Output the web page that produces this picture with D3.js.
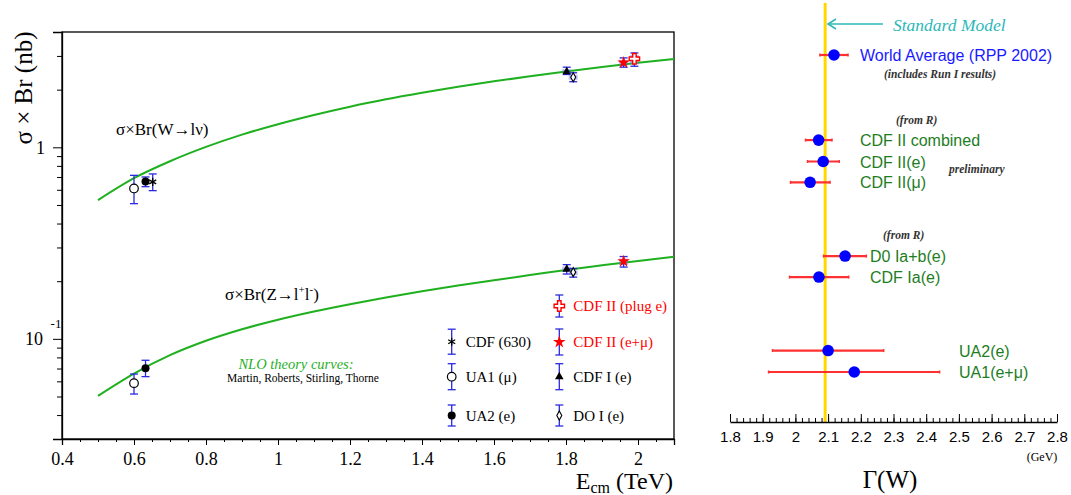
<!DOCTYPE html>
<html>
<head>
<meta charset="utf-8">
<script src="https://cdn.jsdelivr.net/npm/d3@7"></script>
<style>
  html, body { margin: 0; padding: 0; background: #fff; }
  svg { display: block; }
</style>
</head>
<body>
<svg id="chart" width="1071" height="495"></svg>
<script>
// ---------------- DATA ----------------
// Theory curves (NLO, MRST)
const theoryEnergy = [0.5, 0.6, 0.7, 0.8, 0.9, 1.0, 1.1, 1.2, 1.3, 1.4, 1.5, 1.6, 1.7, 1.8, 1.9, 2.0, 2.1];
const theoryW = [0.53, 0.69, 0.846, 1.005, 1.165, 1.32, 1.475, 1.63, 1.78, 1.925, 2.07, 2.21, 2.35, 2.49, 2.625, 2.76, 2.89];
const theoryZ = [0.0504, 0.0659, 0.0822, 0.0977, 0.1122, 0.1259, 0.139, 0.1517, 0.1644, 0.177, 0.1897, 0.2025, 0.2152, 0.229, 0.242, 0.255, 0.268];

// Measurements
const experiments = ["UA1 (μ)", "UA2 (e)", "CDF (630)", "CDF I (e)", "DO I (e)", "CDF II (e+μ)", "CDF II (plug e)"];
const expEnergy   = [0.600, 0.632, 0.652, 1.802, 1.820, 1.960, 1.990];
const wValue = [0.610, 0.664, 0.660, 2.48, 2.32, 2.77, 2.90];
const wLow   = [0.508, 0.623, 0.594, 2.40, 2.20, 2.62, 2.65];
const wHigh  = [0.714, 0.700, 0.726, 2.62, 2.45, 2.93, 3.11];
const zValue = [0.0587, 0.0703, null, 0.231, 0.223, 0.254, null];
const zLow   = [0.0515, 0.0635, null, 0.218, 0.210, 0.237, null];
const zHigh  = [0.0655, 0.0773, null, 0.244, 0.233, 0.269, null];

// Axis ticks (left)
const xTickValues = [0.4, 0.6, 0.8, 1.0, 1.2, 1.4, 1.6, 1.8, 2.0];
const xTickLabels = ["0.4", "0.6", "0.8", "1", "1.2", "1.4", "1.6", "1.8", "2"];

// W width measurements (right)
const widthLabels = ["World Average (RPP 2002)", "CDF II combined", "CDF II(e)", "CDF II(μ)", "D0 Ia+b(e)", "CDF Ia(e)", "UA2(e)", "UA1(e+μ)"];
const widthValue = [2.118, 2.071, 2.085, 2.045, 2.152, 2.072, 2.100, 2.180];
const widthErrLo = [0.043, 0.040, 0.048, 0.060, 0.066, 0.090, 0.170, 0.262];
const widthErrHi = [0.043, 0.041, 0.049, 0.061, 0.065, 0.091, 0.170, 0.261];
const standardModelWidth = 2.091;
const widthTickValues = [1.8, 1.9, 2.0, 2.1, 2.2, 2.3, 2.4, 2.5, 2.6, 2.7, 2.8];
const widthTickLabels = ["1.8", "1.9", "2", "2.1", "2.2", "2.3", "2.4", "2.5", "2.6", "2.7", "2.8"];

// ---------------- DRAWING ----------------
const svg = d3.select("#chart");
const SERIF = "'Liberation Serif', 'Times New Roman', serif";
const SANS = "'Liberation Sans', Arial, sans-serif";
const BLUE_ERR = "#2a2ae0";
const GREEN = "#1fb01f";

// ===== Left panel =====
const L = { left: 62, right: 674, top: 32, bottom: 439 };
const x = d3.scaleLinear().domain([0.4, 2.1]).range([L.left, L.right]);
const y = d3.scaleLog().domain([0.03, 4]).range([L.bottom, L.top]);

// frame
svg.append("rect").attr("x", L.left).attr("y", L.top)
  .attr("width", L.right - L.left).attr("height", L.bottom - L.top)
  .attr("fill", "none").attr("stroke", "#000").attr("stroke-width", 1.3);

// x axis minor ticks
const xMinor = d3.range(0.4, 2.1001, 0.05).map(v => +v.toFixed(2));
svg.append("g").attr("transform", `translate(0,${L.bottom})`)
  .call(d3.axisBottom(x).tickValues(xMinor).tickSize(3).tickFormat(""))
  .call(g => g.select(".domain").remove())
  .selectAll("line").attr("stroke-width", 1);
// x axis major
const gx = svg.append("g").attr("transform", `translate(0,${L.bottom})`)
  .call(d3.axisBottom(x).tickValues(xTickValues).tickSize(6).tickPadding(7)
    .tickFormat((d, i) => xTickLabels[i]));
gx.select(".domain").attr("stroke-width", 1.3);
gx.selectAll("text").attr("font-family", SERIF).attr("font-size", 18).attr("fill", "#000");

// y axis minor ticks
const yMinor = [];
[0.01, 0.1, 1].forEach(dec => { for (let k = 2; k <= 9; k++) { const v = dec * k; if (v >= 0.03 && v <= 4) yMinor.push(v); } });
svg.append("g").attr("transform", `translate(${L.left},0)`)
  .call(d3.axisLeft(y).tickValues(yMinor).tickSize(5).tickFormat(""))
  .call(g => g.select(".domain").remove());
// y axis major
const gy = svg.append("g").attr("transform", `translate(${L.left},0)`)
  .call(d3.axisLeft(y).tickValues([0.1, 1]).tickSize(9).tickPadding(8).tickFormat(d => d === 1 ? "1" : "10"));
gy.select(".domain").attr("stroke-width", 1.3);
gy.selectAll("text").attr("font-family", SERIF).attr("font-size", 18).attr("fill", "#000");
gy.selectAll(".tick").filter(d => d === 0.1).select("text").attr("dx", "-2");
gy.selectAll(".tick").filter(d => d === 0.1).append("text")
  .attr("x", -6).attr("y", -11).attr("text-anchor", "middle")
  .attr("font-family", SERIF).attr("font-size", 13).attr("fill", "#000").text("-1");

// axis titles
svg.append("text").attr("transform", "translate(32,88) rotate(-90)")
  .attr("text-anchor", "middle").attr("font-family", SERIF).attr("font-size", 25)
  .text("σ × Br (nb)");
const xt = svg.append("text").attr("x", 673).attr("y", 489).attr("text-anchor", "end")
  .attr("font-family", SERIF).attr("font-size", 24);
xt.append("tspan").text("E");
xt.append("tspan").attr("font-size", 16).attr("dy", 4).text("cm");
xt.append("tspan").attr("dy", -4).text(" (TeV)");

// theory curves
const curvePts = (vals) => theoryEnergy.map((e, i) => [x(e), y(vals[i])]);
const lineGen = d3.line().curve(d3.curveMonotoneX);
[theoryW, theoryZ].forEach(vals => {
  svg.append("path").attr("d", lineGen(curvePts(vals)))
    .attr("fill", "none").attr("stroke", GREEN).attr("stroke-width", 2);
});

// marker drawing
function drawMarker(g, kind, cx, cy) {
  if (kind === "openCircle") {
    g.append("circle").attr("cx", cx).attr("cy", cy).attr("r", 4.3)
      .attr("fill", "#fff").attr("stroke", "#000").attr("stroke-width", 1.2);
  } else if (kind === "fullCircle") {
    g.append("circle").attr("cx", cx).attr("cy", cy).attr("r", 4)
      .attr("fill", "#000");
  } else if (kind === "asterisk") {
    g.append("path").attr("d", d3.symbol(d3.symbolAsterisk, 45)())
      .attr("transform", `translate(${cx},${cy})`).attr("fill", "none")
      .attr("stroke", "#000").attr("stroke-width", 1.3);
  } else if (kind === "triangle") {
    g.append("path").attr("d", d3.symbol(d3.symbolTriangle, 32)())
      .attr("transform", `translate(${cx},${cy})`).attr("fill", "#000");
  } else if (kind === "diamond") {
    g.append("path").attr("d", "M0,-4.5L2.5,0L0,4.5L-2.5,0Z")
      .attr("transform", `translate(${cx},${cy})`).attr("fill", "#fff")
      .attr("stroke", "#000").attr("stroke-width", 1.1);
  } else if (kind === "star") {
    g.append("path").attr("d", d3.symbol(d3.symbolStar, 50)())
      .attr("transform", `translate(${cx},${cy})`).attr("fill", "#ff0000");
  } else if (kind === "openCross") {
    g.append("path").attr("d", d3.symbol(d3.symbolCross, 60)())
      .attr("transform", `translate(${cx},${cy})`).attr("fill", "#fff")
      .attr("stroke", "#ff0000").attr("stroke-width", 1.4);
  }
}
function drawErrBar(g, cx, y1, y2, withBand) {
  if (withBand) {
    g.append("rect").attr("x", cx - 4.5).attr("y", Math.min(y1, y2) + 2)
      .attr("width", 9).attr("height", Math.abs(y2 - y1) - 4)
      .attr("fill", "#6f6ff0").attr("opacity", 0.45);
  }
  g.append("line").attr("x1", cx).attr("x2", cx).attr("y1", y1).attr("y2", y2)
    .attr("stroke", BLUE_ERR).attr("stroke-width", 1.3);
  [y1, y2].forEach(yy => g.append("line").attr("x1", cx - 4).attr("x2", cx + 4)
    .attr("y1", yy).attr("y2", yy).attr("stroke", BLUE_ERR).attr("stroke-width", 1.3));
}
const markerKinds = ["openCircle", "fullCircle", "asterisk", "triangle", "diamond", "star", "openCross"];
const gData = svg.append("g");
experiments.forEach((name, i) => {
  const cx = x(expEnergy[i]);
  const band = expEnergy[i] > 1.5;
  drawErrBar(gData, cx, y(wHigh[i]), y(wLow[i]), band);
  drawMarker(gData, markerKinds[i], cx, y(wValue[i]));
  if (zValue[i] !== null) {
    drawErrBar(gData, cx, y(zHigh[i]), y(zLow[i]), band);
    drawMarker(gData, markerKinds[i], cx, y(zValue[i]));
  }
});

// curve labels
svg.append("text").attr("x", 116).attr("y", 135).attr("font-family", SERIF).attr("font-size", 17)
  .text("σ×Br(W→lν)");
const zl = svg.append("text").attr("x", 225).attr("y", 300).attr("font-family", SERIF).attr("font-size", 17);
zl.append("tspan").text("σ×Br(Z→l");
zl.append("tspan").attr("font-size", 11).attr("dy", -7).text("+");
zl.append("tspan").attr("font-size", 17).attr("dy", 7).text("l");
zl.append("tspan").attr("font-size", 11).attr("dy", -7).text("-");
zl.append("tspan").attr("font-size", 17).attr("dy", 7).text(")");
svg.append("text").attr("x", 296).attr("y", 369).attr("text-anchor", "middle")
  .attr("font-family", SERIF).attr("font-style", "italic").attr("font-size", 14.5)
  .attr("fill", GREEN).text("NLO theory curves:");
svg.append("text").attr("x", 303).attr("y", 382).attr("text-anchor", "middle")
  .attr("font-family", SERIF).attr("font-size", 11.5).text("Martin, Roberts, Stirling, Thorne");

// legend
const legend = [
  { i: 2, cx: 451.7, cy: 341.7, h: 12.5 },
  { i: 0, cx: 451.7, cy: 376.7, h: 13 },
  { i: 1, cx: 451.7, cy: 415.5, h: 10.5 },
  { i: 6, cx: 559.3, cy: 306, h: 11 },
  { i: 5, cx: 559.3, cy: 342, h: 13 },
  { i: 3, cx: 559.3, cy: 376.7, h: 13 },
  { i: 4, cx: 559.3, cy: 415.5, h: 10.5 }
];
const gLeg = svg.append("g");
legend.forEach(d => {
  drawErrBar(gLeg, d.cx, d.cy - d.h, d.cy + d.h, false);
  drawMarker(gLeg, markerKinds[d.i], d.cx, d.cy);
  gLeg.append("text").attr("x", d.cx + 14).attr("y", d.cy + 5)
    .attr("font-family", SERIF).attr("font-size", 15)
    .attr("fill", d.i >= 5 ? "#ff0000" : "#000").text(experiments[d.i]);
});

// ===== Right panel =====
const xr = d3.scaleLinear().domain([1.8, 2.8]).range([730, 1057]);
const axisY = 422;
const rowSlot = [0, 4.05, 5.07, 6.06, 9.57, 10.57, 14.07, 15.09];
const ry = d3.scaleLinear().domain([0, 15.09]).range([55, 372]);

// SM line
svg.append("line").attr("x1", xr(standardModelWidth)).attr("x2", xr(standardModelWidth))
  .attr("y1", 3).attr("y2", axisY).attr("stroke", "#ffd800").attr("stroke-width", 3);

// axis minor
svg.append("g").attr("transform", `translate(0,${axisY})`)
  .call(d3.axisBottom(xr).tickValues(d3.range(0, 51).map(k => +(1.8 + k * 0.02).toFixed(2)))
    .tickSizeInner(-4).tickSizeOuter(0).tickFormat(""))
  .call(g => g.select(".domain").remove());
const gxr = svg.append("g").attr("transform", `translate(0,${axisY})`)
  .call(d3.axisBottom(xr).tickValues(widthTickValues).tickSizeInner(-8).tickSizeOuter(0)
    .tickPadding(9).tickFormat((d, i) => widthTickLabels[i]));
gxr.select(".domain").attr("stroke-width", 1.3);
gxr.selectAll("text").attr("font-family", SANS).attr("font-size", 15).attr("fill", "#000");
svg.append("text").attr("x", 1042).attr("y", 461).attr("text-anchor", "middle")
  .attr("font-family", SERIF).attr("font-size", 12).text("(GeV)");
svg.append("text").attr("x", 890).attr("y", 488).attr("text-anchor", "middle")
  .attr("font-family", SERIF).attr("font-size", 25).text("Γ(W)");

// Standard Model arrow
const arrowY = 24;
svg.append("line").attr("x1", 883).attr("x2", 828).attr("y1", arrowY).attr("y2", arrowY)
  .attr("stroke", "#2cb8b8").attr("stroke-width", 1.5);
svg.append("path").attr("d", `M836,${arrowY - 5}L828,${arrowY}L836,${arrowY + 5}`)
  .attr("fill", "none").attr("stroke", "#2cb8b8").attr("stroke-width", 1.5);
svg.append("text").attr("x", 893).attr("y", 31).attr("font-family", SERIF)
  .attr("font-style", "italic").attr("font-size", 17.5).attr("fill", "#2cb8b8").text("Standard Model");

// measurements
const gW = svg.append("g");
widthLabels.forEach((lab, i) => {
  const cy = ry(rowSlot[i]);
  const x1 = xr(widthValue[i] - widthErrLo[i]), x2 = xr(widthValue[i] + widthErrHi[i]);
  gW.append("line").attr("x1", x1).attr("x2", x2).attr("y1", cy).attr("y2", cy)
    .attr("stroke", "#ff3030").attr("stroke-width", 2.2);
  [x1, x2].forEach(xx => gW.append("line").attr("x1", xx).attr("x2", xx)
    .attr("y1", cy - 1.5).attr("y2", cy + 1.5).attr("stroke", "#ff3030").attr("stroke-width", 1.5));
  gW.append("circle").attr("cx", xr(widthValue[i])).attr("cy", cy).attr("r", 5.8).attr("fill", "#0000ff");
  const tx = i <= 3 ? 860 : (i <= 5 ? 870 : 959);
  gW.append("text").attr("x", tx).attr("y", cy + 6)
    .attr("font-family", SANS).attr("font-size", 16)
    .attr("fill", i === 0 ? "#1a1aff" : "#1e7d1e").text(lab);
});
const note = (txt, xx, yy) => svg.append("text").attr("x", xx).attr("y", yy)
  .attr("font-family", SERIF).attr("font-style", "italic").attr("font-weight", "bold")
  .attr("font-size", 11.5).attr("fill", "#333").text(txt);
note("(includes Run I results)", 884, 78);
note("(from R)", 896, 124);
note("preliminary", 949, 173);
note("(from R)", 883, 239);
</script>
</body>
</html>
